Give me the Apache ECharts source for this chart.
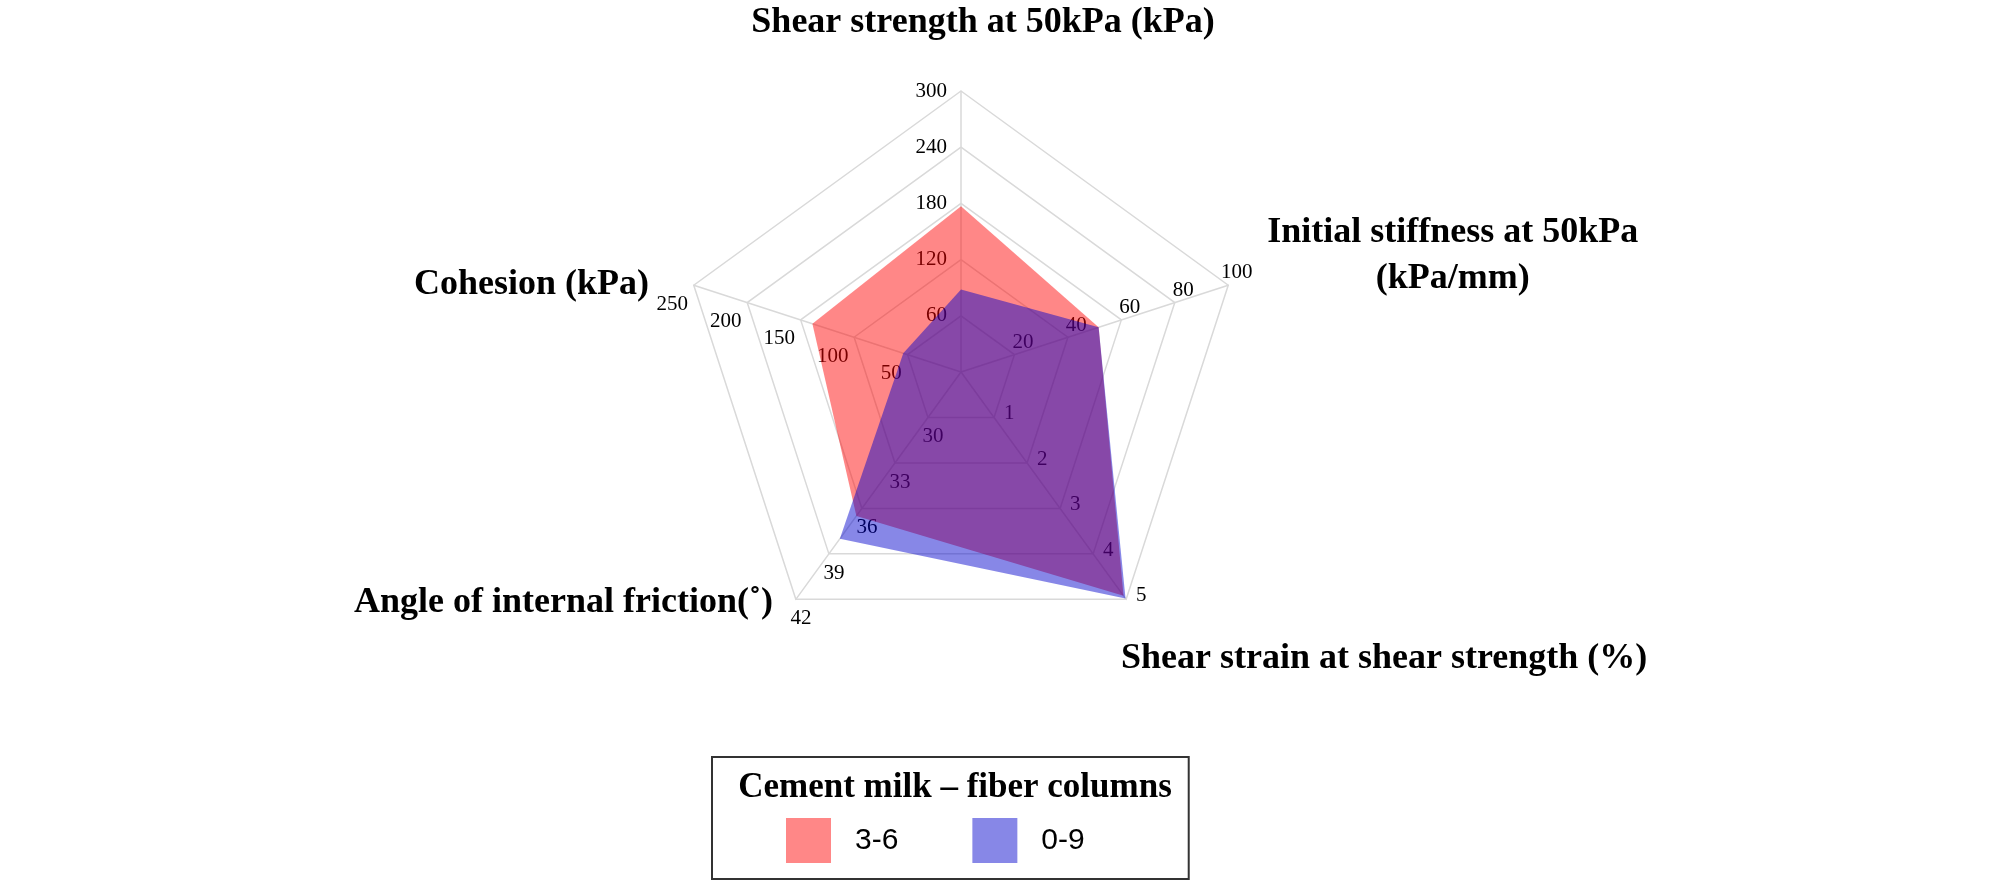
<!DOCTYPE html>
<html>
<head>
<meta charset="utf-8">
<script src="https://cdn.jsdelivr.net/npm/echarts@6/dist/echarts.min.js"></script>
<style>html,body{margin:0;padding:0;background:#fff}#c{width:2008px;height:887px}</style>
</head>
<body>
<div id="c"></div>
<script>
// Indicators (ECharts order: top, then counter-clockwise)
const axisNames = [
  'Shear strength at 50kPa (kPa)',
  'Cohesion (kPa)',
  'Angle of internal friction(˚)',
  'Shear strain at shear strength (%)',
  'Initial stiffness at 50kPa\n(kPa/mm)'
];
const axisMin = [0, 0, 27, 0, 0];
const axisMax = [300, 250, 42, 5, 100];
const seriesNames = ['3-6', '0-9'];
const values36 = [177, 139, 36.5, 4.92, 51.5];
const values09 = [88, 54, 38.0, 4.98, 51.5];
const legendTitle = 'Cement milk – fiber columns';

const serif = '"Liberation Serif","Times New Roman",serif';
// per-axis name and tick-label placement
const axisCfg = [
  {nameGap: 50, nameTextStyle: {padding: [0, 0, 0, 44]},
   axisLabel: {margin: 14, align: 'right', verticalAlign: 'middle', padding: [0, 0, 8, 0]}},
  {nameGap: 47, nameTextStyle: {padding: [28, 0, 0, 0]},
   axisLabel: {margin: 12, align: 'right', verticalAlign: 'top', padding: [0, 2, 0, 0]}},
  {nameGap: 39, nameTextStyle: {padding: [0, 0, 56, 0]},
   axisLabel: {margin: 10, align: 'center', verticalAlign: 'top', padding: [6, 6, 0, 0]}},
  {nameGap: 51, nameTextStyle: {align: 'center', verticalAlign: 'top', padding: [0, 0, 0, 456]},
   axisLabel: {margin: 6, align: 'left', verticalAlign: 'middle', padding: [8, 0, 0, 5]}},
  {nameGap: 41, nameTextStyle: {padding: [0, 0, 34, 0]},
   axisLabel: {margin: 5, align: 'center', verticalAlign: 'bottom', padding: [0, 0, 0, 20]}}
];
const indicator = axisNames.map((n, i) => {
  let name = n;
  if (n.indexOf('\n') >= 0) name = n.split('\n').map(s => '{c|' + s + '}').join('\n');
  return Object.assign({name: name, min: axisMin[i], max: axisMax[i]}, axisCfg[i]);
});

const chart = echarts.init(document.getElementById('c'));
chart.setOption({
  animation: false,
  title: {
    text: legendTitle,
    left: 950, top: 765, textAlign: 'center',
    textStyle: {fontFamily: serif, fontWeight: 'bold', fontSize: 35, color: '#000'}
  },
  legend: {
    data: seriesNames,
    left: 712, top: 757,
    orient: 'horizontal',
    padding: [61, 104, 16, 74],
    itemWidth: 45, itemHeight: 45, itemGap: 74,
    icon: 'rect',
    borderColor: '#333', borderWidth: 2,
    textStyle: {fontFamily: '"Liberation Sans",Arial,sans-serif', fontSize: 30, color: '#000', padding: [0, 0, 0, 19]}
  },
  radar: {
    center: [961, 372],
    radius: 281,
    startAngle: 90,
    splitNumber: 5,
    shape: 'polygon',
    indicator: indicator,
    axisName: {
      color: '#000', fontFamily: serif, fontWeight: 'bold', fontSize: 36,
      rich: {c: {fontFamily: serif, fontWeight: 'bold', fontSize: 36, color: '#000', align: 'center', lineHeight: 46}}
    },
    splitLine: {lineStyle: {color: '#d9d9d9', width: 1.5}},
    splitArea: {show: false},
    axisLine: {lineStyle: {color: '#d9d9d9', width: 1.5}},
    axisTick: {show: false},
    axisLabel: {show: true, showMinLabel: false, color: '#000', fontFamily: serif, fontSize: 21, lineHeight: 15}
  },
  series: [{
    type: 'radar',
    symbol: 'none',
    data: [
      {name: seriesNames[0], value: values36,
       itemStyle: {color: 'rgba(255,0,0,0.47)'},
       lineStyle: {width: 0, color: 'rgba(255,0,0,0.47)'},
       areaStyle: {color: 'rgba(255,0,0,0.47)', opacity: 1}},
      {name: seriesNames[1], value: values09,
       itemStyle: {color: 'rgba(0,0,205,0.47)'},
       lineStyle: {width: 0, color: 'rgba(0,0,205,0.47)'},
       areaStyle: {color: 'rgba(0,0,205,0.47)', opacity: 1}}
    ]
  }]
});
</script>
</body>
</html>
